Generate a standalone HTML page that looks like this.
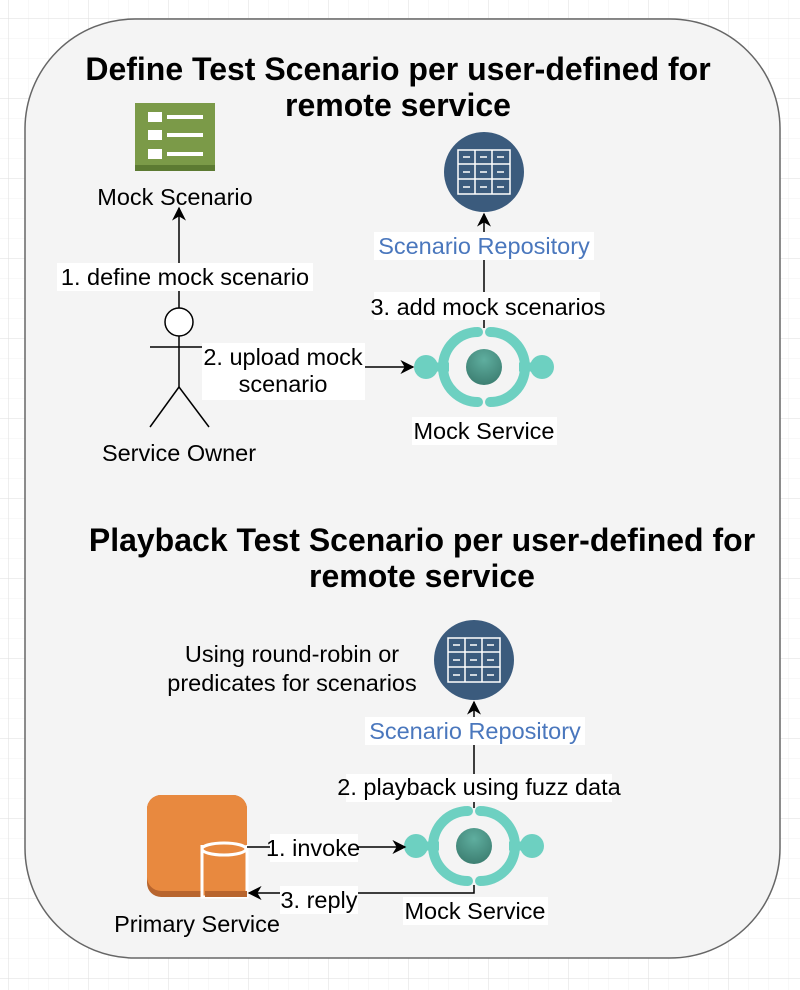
<!DOCTYPE html>
<html><head><meta charset="utf-8"><style>
html,body{margin:0;padding:0;background:#fff;}
svg{display:block;font-family:"Liberation Sans",Arial,sans-serif;}
</style></head><body>
<svg width="800" height="990" viewBox="0 0 800 990" xmlns="http://www.w3.org/2000/svg">
<defs>
<pattern id="gmin" width="20" height="20" patternUnits="userSpaceOnUse" x="8" y="18">
<path d="M0 0H20M0 0V20" stroke="#f0f0f0" stroke-width="1" fill="none"/></pattern>
<pattern id="gmaj" width="80" height="80" patternUnits="userSpaceOnUse" x="8" y="18">
<path d="M0 0H80M0 0V80" stroke="#dedede" stroke-width="1" fill="none"/></pattern>
<radialGradient id="tg" cx="0.5" cy="0.3" r="0.7"><stop offset="0" stop-color="#5fae9f"/><stop offset="1" stop-color="#3d7f72"/></radialGradient>
<marker id="ah" viewBox="0 0 10 10" refX="9" refY="5" markerWidth="14" markerHeight="14" markerUnits="userSpaceOnUse" orient="auto">
<path d="M0 0L10 5L0 10L3 5Z" fill="#000"/></marker>
<g id="ms">
<circle cx="-58" cy="0" r="12" fill="#6dd0c1"/><circle cx="58" cy="0" r="12" fill="#6dd0c1"/>
<line x1="-58" y1="0" x2="-35" y2="0" stroke="#6dd0c1" stroke-width="9"/>
<line x1="35" y1="0" x2="58" y2="0" stroke="#6dd0c1" stroke-width="9"/>
<path d="M-6 -35 A35 35 0 0 0 -6 35" fill="none" stroke="#6dd0c1" stroke-width="10" stroke-linecap="round"/>
<path d="M6 -35 A35 35 0 0 1 6 35" fill="none" stroke="#6dd0c1" stroke-width="10" stroke-linecap="round"/>
<circle cx="0" cy="0" r="18" fill="url(#tg)"/>
</g>
<g id="repo">
<circle cx="0" cy="0" r="40" fill="#3b5b7d"/>
<rect x="-26" y="-22" width="52" height="44" fill="none" stroke="#fff" stroke-width="1.5"/>
<path d="M-26 -8H26M-26 7H26M-9 -22V22M8 -22V22" stroke="#fff" stroke-width="1.5"/>
<path d="M-21 -15h7M-4 -15h7M13 -15h7M-21 0h7M-4 0h7M13 0h7M-21 15h7M-4 15h7M13 15h7" stroke="#fff" stroke-width="1.5"/>
</g>
</defs>
<rect width="800" height="990" fill="url(#gmin)"/>
<rect width="800" height="990" fill="url(#gmaj)"/>
<rect x="25" y="19" width="755" height="939" rx="110" ry="110" fill="#f4f4f4" stroke="#666" stroke-width="1.5"/>

<g font-weight="bold" font-size="32" text-anchor="middle" fill="#000">
<text x="398" y="80">Define Test Scenario per user-defined for</text>
<text x="398" y="116">remote service</text>
<text x="422" y="551">Playback Test Scenario per user-defined for</text>
<text x="422" y="587">remote service</text>
</g>

<!-- Mock scenario icon -->
<rect x="135" y="103" width="80" height="68" fill="#7b9a48"/>
<rect x="135" y="165" width="80" height="6" fill="#5c7a32"/>
<g fill="#fff"><rect x="148" y="112" width="14" height="10"/><rect x="148" y="130" width="14" height="10"/><rect x="148" y="149" width="14" height="10"/>
<rect x="167" y="115" width="36" height="4"/><rect x="167" y="133" width="36" height="4"/><rect x="167" y="152" width="36" height="4"/></g>

<g font-size="23.5" fill="#000">
<text x="175" y="205" text-anchor="middle">Mock Scenario</text>

<line x1="179" y1="308" x2="179" y2="208" stroke="#000" stroke-width="1.5" marker-end="url(#ah)"/>
<rect x="57" y="263" width="256" height="28" fill="#fff"/>
<text x="185" y="285" text-anchor="middle">1. define mock scenario</text>

<!-- actor -->
<g stroke="#000" stroke-width="1.5" fill="none">
<circle cx="179" cy="322" r="14" fill="#fff"/>
<line x1="179" y1="336" x2="179" y2="387"/>
<line x1="150" y1="347" x2="209" y2="347"/>
<line x1="179" y1="387" x2="150" y2="427"/><line x1="179" y1="387" x2="209" y2="427"/>
</g>
<text x="179" y="461" text-anchor="middle">Service Owner</text>

<line x1="365" y1="367" x2="413" y2="367" stroke="#000" stroke-width="1.5" marker-end="url(#ah)"/>
<rect x="202" y="343" width="163" height="57" fill="#fff"/>
<text x="283" y="365" text-anchor="middle">2. upload mock</text>
<text x="283" y="392" text-anchor="middle">scenario</text>

<use href="#ms" x="484" y="367"/>
<rect x="412" y="417" width="145" height="28" fill="#fff"/>
<text x="484" y="439" text-anchor="middle">Mock Service</text>

<line x1="484" y1="328" x2="484" y2="214" stroke="#000" stroke-width="1.5" marker-end="url(#ah)"/>
<rect x="374" y="292" width="226" height="28" fill="#fff"/>
<text x="488" y="315" text-anchor="middle">3. add mock scenarios</text>
<use href="#repo" x="484" y="172"/>
<rect x="374" y="232" width="220" height="28" fill="#fff"/>
<text x="484" y="254" fill="#4a77bd" text-anchor="middle">Scenario Repository</text>

<!-- bottom -->
<text x="292" y="662" text-anchor="middle">Using round-robin or</text>
<text x="292" y="691" text-anchor="middle">predicates for scenarios</text>
<use href="#repo" x="474" y="660"/>
<line x1="474" y1="808" x2="474" y2="702" stroke="#000" stroke-width="1.5" marker-end="url(#ah)"/>
<rect x="365" y="717" width="220" height="28" fill="#fff"/>
<text x="475" y="739" fill="#4a77bd" text-anchor="middle">Scenario Repository</text>
<rect x="346" y="774" width="266" height="28" fill="#fff"/>
<text x="479" y="795" text-anchor="middle">2. playback using fuzz data</text>

<use href="#ms" x="474" y="846"/>
<rect x="403" y="897" width="145" height="28" fill="#fff"/>
<text x="475" y="919" text-anchor="middle">Mock Service</text>

<!-- primary service -->
<rect x="147" y="795" width="100" height="102" rx="14" fill="#b8652e"/>
<rect x="147" y="795" width="100" height="96" rx="14" fill="#e8893f"/>
<path d="M202 845 v52 h45 v-52" fill="#e8893f" stroke="#fff" stroke-width="3"/>
<path d="M205 891 h42 v6 h-42z" fill="#b8652e"/>
<ellipse cx="224" cy="849" rx="22" ry="6" fill="#e8893f" stroke="#fff" stroke-width="3"/>
<text x="197" y="932" text-anchor="middle">Primary Service</text>

<line x1="247" y1="847" x2="405" y2="847" stroke="#000" stroke-width="1.5" marker-end="url(#ah)"/>
<rect x="270" y="834" width="88" height="28" fill="#fff"/>
<text x="313" y="856" text-anchor="middle">1. invoke</text>
<polyline points="474,885 474,893 249,893" fill="none" stroke="#000" stroke-width="1.5" marker-end="url(#ah)"/>
<rect x="280" y="886" width="78" height="28" fill="#fff"/>
<text x="319" y="908" text-anchor="middle">3. reply</text>
</g>
</svg>
</body></html>
